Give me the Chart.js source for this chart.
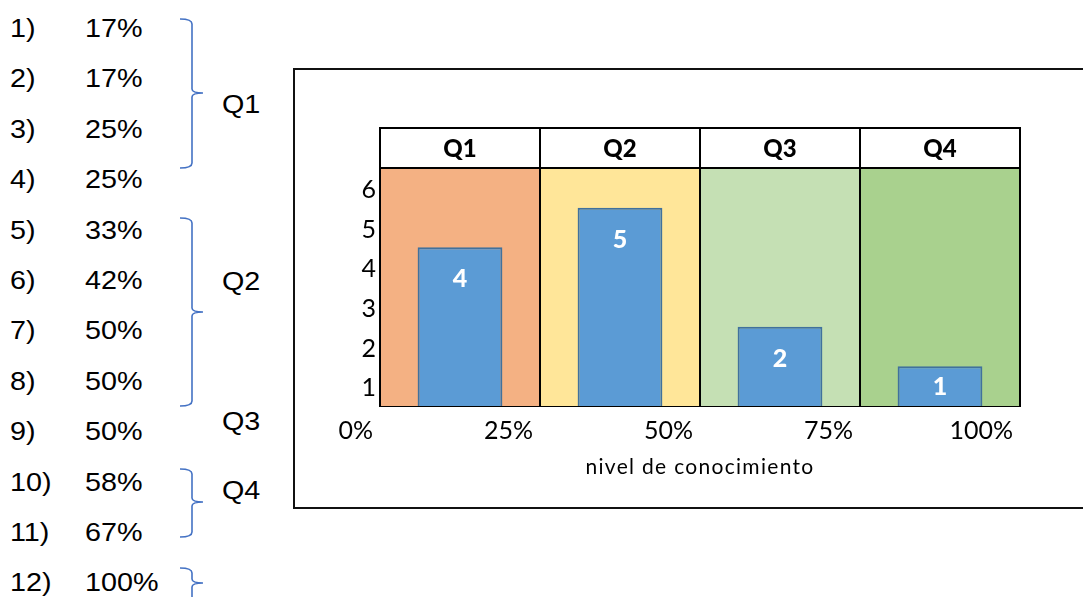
<!DOCTYPE html>
<html>
<head>
<meta charset="utf-8">
<script src="https://cdn.jsdelivr.net/npm/chart.js@4/dist/chart.umd.min.js"></script>
<style>
  html, body { margin: 0; padding: 0; background: #fff; }
  body { width: 1083px; height: 597px; position: relative; overflow: hidden; }
  #frame {
    position: absolute; left: 293px; top: 68px; width: 820px; height: 441px;
    border: 2px solid #111; box-sizing: border-box;
  }
  #chart { position: absolute; left: 0; top: 0; }
  #notes { position: absolute; left: 0; top: 0; }
</style>
</head>
<body>
<div id="frame"></div>
<svg id="notes" width="300" height="597" xmlns="http://www.w3.org/2000/svg"></svg>
<canvas id="chart" width="1083" height="597"></canvas>
<script>
// Item list shown on the left: question number and its score
const itemNumbers = ['1)', '2)', '3)', '4)', '5)', '6)', '7)', '8)', '9)', '10)', '11)', '12)'];
const itemScores = [17, 17, 25, 25, 33, 42, 50, 50, 50, 58, 67, 100];

// Quartile groups and how many items fall into each
const groupLabels = ['Q1', 'Q2', 'Q3', 'Q4'];
const groupCounts = [4, 5, 2, 1];

// Axis tick labels
const percentTicks = [0, 25, 50, 75, 100];
const countTicks = [1, 2, 3, 4, 5, 6];

const zoneColors = ['#F4B183', '#FFE699', '#C5E0B4', '#A9D18E'];
const chartFont = 'Lato, "Open Sans", sans-serif';

// ---- left-hand list with braces ----
const svgNS = 'http://www.w3.org/2000/svg';
const notes = document.getElementById('notes');
const stretch = 1.15;
function svgText(x, y, str) {
  const t = document.createElementNS(svgNS, 'text');
  t.setAttribute('x', x / stretch); t.setAttribute('y', y);
  t.setAttribute('transform', `scale(${stretch},1)`);
  t.setAttribute('font-family', '"Liberation Sans", Arial, sans-serif');
  t.setAttribute('font-size', '25');
  t.setAttribute('fill', '#000');
  t.textContent = str;
  notes.appendChild(t);
}
itemNumbers.forEach((n, i) => {
  const base = 37 + i * 50.4;
  svgText(10, base, n);
  svgText(85, base, itemScores[i] + '%');
});
// braces: top end, pointed middle, bottom end
function brace(top, mid, bottom) {
  const p = document.createElementNS(svgNS, 'path');
  const d = `M180,${top} Q192,${top} 192,${top + 5} L192,${mid - 4} Q192,${mid} 203,${mid} ` +
            `Q192,${mid} 192,${mid + 4} L192,${bottom - 5} Q192,${bottom} 180,${bottom}`;
  p.setAttribute('d', d);
  p.setAttribute('fill', 'none');
  p.setAttribute('stroke', '#4472C4');
  p.setAttribute('stroke-width', '1.6');
  notes.appendChild(p);
}
brace(19, 93, 168);
brace(218, 312, 406);
brace(469, 502, 537);
brace(568, 583, 640);
[['Q1', 113], ['Q2', 290], ['Q3', 430], ['Q4', 499]].forEach(([s, y]) => svgText(222, y, s));

// ---- chart ----
const headerPlugin = {
  id: 'quartileHeader',
  afterDatasetsDraw(chart) {
    const { ctx, chartArea } = chart;
    const xs = chart.scales.x;
    const pct = chart.scales.xPct;
    const h = 40;
    const top = chartArea.top - h;
    ctx.save();
    // header row
    ctx.fillStyle = '#fff';
    ctx.fillRect(chartArea.left, top, chartArea.right - chartArea.left, h);
    ctx.strokeStyle = '#000';
    ctx.lineWidth = 2;
    ctx.strokeRect(chartArea.left, top, chartArea.right - chartArea.left, h);
    percentTicks.forEach(v => {
      const px = Math.round(pct.getPixelForValue(v));
      ctx.beginPath(); ctx.moveTo(px, top); ctx.lineTo(px, chartArea.bottom); ctx.stroke();
    });
    ctx.fillStyle = '#000';
    ctx.font = '900 24px ' + chartFont;
    ctx.textAlign = 'center';
    ctx.textBaseline = 'middle';
    groupLabels.forEach((g, i) => ctx.fillText(g, xs.getPixelForValue(i), top + h / 2 + 1));

    // value labels inside the bars
    const meta = chart.getDatasetMeta(0);
    ctx.fillStyle = '#fff';
    ctx.font = '900 25px ' + chartFont;
    meta.data.forEach((el, i) => {
      const y = Math.min(el.y + 32, (el.y + el.base) / 2 + 1);
      ctx.fillText(String(groupCounts[i]), el.x, y);
    });

    // axis title
    ctx.fillStyle = '#000';
    ctx.font = '21px ' + chartFont;
    ctx.letterSpacing = '1.3px';
    ctx.fillText('nivel de conocimiento', (chartArea.left + chartArea.right) / 2, chartArea.bottom + 61);
    ctx.restore();
  }
};

new Chart(document.getElementById('chart'), {
  type: 'bar',
  data: {
    labels: groupLabels,
    datasets: [
      {
        label: 'ítems',
        data: groupCounts,
        backgroundColor: '#5B9BD5',
        borderColor: '#41719C',
        borderWidth: 2,
        barPercentage: 0.53,
        categoryPercentage: 1,
        grouped: false,
        order: 0
      },
      {
        label: 'zona',
        data: groupLabels.map(() => countTicks[countTicks.length - 1]),
        backgroundColor: zoneColors,
        borderWidth: 0,
        barPercentage: 1,
        categoryPercentage: 1,
        grouped: false,
        order: 1
      }
    ]
  },
  options: {
    responsive: false,
    animation: false,
    devicePixelRatio: 1,
    layout: { padding: { left: 330, right: 63, top: 168, bottom: 111 } },
    plugins: { legend: { display: false }, tooltip: { enabled: false } },
    scales: {
      x: { type: 'category', display: false },
      xPct: {
        type: 'linear',
        position: 'bottom',
        min: 0, max: 100,
        offset: false,
        afterBuildTicks: s => { s.ticks = percentTicks.map(v => ({ value: v })); },
        afterFit: s => { s.height = 80; },
        ticks: {
          callback: v => v + '%',
          align: 'end',
          labelOffset: -7,
          padding: 10,
          maxRotation: 0,
          autoSkip: false,
          color: '#000',
          font: { family: chartFont, size: 25 }
        },
        grid: { display: false, offset: false, drawTicks: false },
        border: { display: true, color: '#000', width: 2 }
      },
      y: {
        type: 'linear',
        min: 0, max: countTicks[countTicks.length - 1],
        afterBuildTicks: s => { s.ticks = countTicks.map(v => ({ value: v - 0.5 })); },
        afterFit: s => { s.width = 50; },
        ticks: {
          callback: v => String(Math.round(v + 0.5)),
          padding: 4,
          labelOffset: 2,
          color: '#000',
          font: { family: chartFont, size: 25 }
        },
        grid: { display: false, drawTicks: false },
        border: { display: false }
      }
    }
  },
  plugins: [headerPlugin]
});
</script>
</body>
</html>
